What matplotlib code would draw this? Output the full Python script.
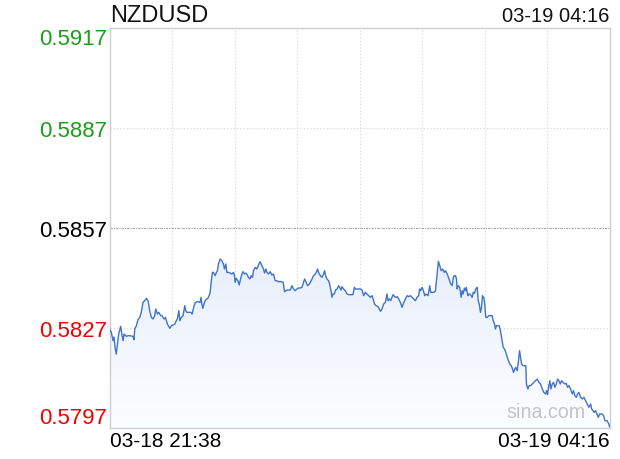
import numpy as np
import matplotlib
matplotlib.use("Agg")
import matplotlib.pyplot as plt
from matplotlib.colors import LinearSegmentedColormap

plt.rcParams['font.family'] = ['Liberation Sans', 'DejaVu Sans']

# ---------------- data ----------------
title = "NZDUSD"
start_label = "03-18 21:38"
end_label = "03-19 04:16"
total_minutes = 398

y_ticks = [0.5917, 0.5887, 0.5857, 0.5827, 0.5797]
y_tick_labels = ["0.5917", "0.5887", "0.5857", "0.5827", "0.5797"]
y_tick_colors = ["#1a9f1a", "#1a9f1a", "#000000", "#f20000", "#f20000"]
prev_close = 0.5857

minutes = [
    0, 1.4, 2.8, 3.6, 4.6, 5.4, 6.2, 7.3, 8.9, 10.0, 10.8, 11.6, 13.4, 14.7, 16.1, 18.7, 19.5, 20.1, 21.4, 22.7,
    24.1, 25.3, 26.7, 28.1, 29.3, 30.7, 32.0, 33.3, 34.7, 36.0, 36.8, 38.1, 39.2, 40.8, 41.8, 43.4, 44.5, 46.1, 48.0,
    49.3, 50.6, 52.0, 53.2, 54.0, 55.2, 56.0, 57.2, 58.6, 59.9, 60.7, 61.5, 63.1, 64.7, 65.8, 67.3, 68.4, 70.5,
    72.1, 72.9, 73.5, 74.3, 75.6, 76.7, 78.3, 79.3, 80.1, 80.9, 81.9, 82.7, 84.1, 84.9, 85.9, 86.7, 88.1, 89.4, 90.7,
    91.5, 92.6, 93.4, 94.7, 96.0, 97.4, 98.7, 99.5, 100.0, 100.8, 102.2, 103.2, 104.0, 105.4, 106.2, 107.4, 108.6,
    109.6, 110.6, 111.7, 112.8, 113.8, 114.6, 116.0, 117.3, 118.6, 119.9, 121.3, 122.6, 123.4, 124.5, 125.3, 126.6,
    127.9, 129.3, 130.5, 131.9, 133.3, 134.5, 136.7, 138.3, 139.3,
    141.2, 143.9, 145.2, 146.5, 147.8, 149.2, 150.5, 151.8, 153.2, 154.5, 155.3, 156.6, 157.6, 159.2, 161.2, 162.4,
    163.8, 164.6, 165.6, 166.4, 167.8, 169.1, 170.4, 171.2, 172.0, 173.1, 174.4, 175.2, 176.3, 177.1, 177.9, 178.9,
    180.0, 181.1, 182.4, 183.2, 184.3, 185.1, 186.3, 187.7, 189.0, 190.3, 192.2, 193.8, 194.9, 195.9, 197.5, 199.7,
    201.0, 202.3, 203.6, 205.0, 206.3, 207.6,
    209.0, 209.8, 211.0, 212.2, 213.8, 214.8, 215.8, 216.9, 218.2, 219.6, 220.9, 221.7, 222.8, 223.8, 224.9, 225.7,
    227.0, 228.1, 229.1, 230.2, 231.5, 232.9, 233.9, 235.0, 236.1, 237.1, 238.1, 239.5, 240.9, 242.1, 243.5, 244.8,
    246.1, 246.9, 247.7, 248.8, 249.9, 250.9, 252.0, 253.6, 254.9, 255.7, 256.8, 258.1, 259.4, 260.8, 261.8, 262.9,
    264.0, 265.2, 266.4, 267.4, 268.8, 270.0, 271.4, 272.7, 273.8, 274.8, 275.4, 276.2,
    276.7, 277.5, 278.8, 279.9, 280.7, 281.5, 282.5, 283.3, 284.1, 285.2, 286.0, 286.8, 287.9, 288.7, 289.5, 290.5,
    291.5, 292.7, 293.5, 294.3, 295.3, 296.1, 296.9, 297.9, 298.7, 299.5, 300.6, 301.9, 303.3, 304.6, 305.4, 306.5,
    307.2, 308.0, 309.1, 310.2, 311.2, 312.3, 313.4, 314.4, 315.5, 316.6, 317.6, 318.6, 319.8, 320.8, 321.6, 322.6,
    323.4, 324.5, 325.6, 326.4, 327.2, 328.0, 329.3, 330.4, 331.4, 331.9, 333.0, 334.1, 335.1,
    336.5, 337.8, 339.1, 340.5, 341.8, 343.1, 344.5, 345.7, 347.1, 347.9, 348.7, 349.7, 350.5, 351.3, 352.4, 353.5,
    354.5, 355.6, 356.7, 357.7, 358.8, 359.8, 360.9, 362.5, 363.6, 364.6, 365.7, 367.0, 368.4, 369.4, 370.4, 371.6,
    372.6, 373.6, 375.0, 376.3, 377.6, 379.0, 380.3, 381.6, 383.0, 383.8, 384.8, 385.9, 386.9, 388.0, 389.1, 390.1,
    391.2, 392.3, 393.3, 394.4, 396.0, 397.5, 398.0,
]

prices = [
    0.58267, 0.58258, 0.58232, 0.58243, 0.58207, 0.58192, 0.58217, 0.58252, 0.58275, 0.58247, 0.58232, 0.58252,
    0.58245, 0.58247, 0.58247, 0.58245, 0.58235, 0.58267, 0.58277, 0.58295, 0.58302, 0.58317, 0.58347, 0.58352,
    0.58359, 0.58352, 0.58322, 0.58302, 0.58297, 0.58307, 0.58327, 0.58312, 0.58317, 0.58307, 0.58307, 0.58297,
    0.58302, 0.58282, 0.58269, 0.58277, 0.58279, 0.58282, 0.58292, 0.58297, 0.58322, 0.58292, 0.58302, 0.58307,
    0.58337, 0.58322, 0.58317, 0.58317, 0.58317, 0.58312, 0.58337, 0.58347, 0.58349,
    0.58347, 0.58362, 0.58342, 0.58329, 0.58347, 0.58355, 0.58359, 0.58367, 0.58377, 0.58407, 0.58437, 0.58437,
    0.58427, 0.58435, 0.58442, 0.58462, 0.58477, 0.58472, 0.58462, 0.58447, 0.58462, 0.58437, 0.58437, 0.58435,
    0.58432, 0.58437, 0.58427, 0.58407, 0.58419, 0.58412, 0.58399, 0.58412, 0.58432, 0.58439, 0.58432, 0.58435,
    0.58429, 0.58422, 0.58417, 0.58427, 0.58422, 0.58442, 0.58452, 0.58447, 0.58459, 0.58469, 0.58457, 0.58447,
    0.58435, 0.58447, 0.58437, 0.58432, 0.58439, 0.58429, 0.58432, 0.58412, 0.58412, 0.58409, 0.58409, 0.58407,
    0.58379,
    0.58384, 0.58384, 0.58397, 0.58387, 0.58382, 0.58387, 0.58390, 0.58390, 0.58392, 0.58407, 0.58417, 0.58407,
    0.58397, 0.58402, 0.58417, 0.58427, 0.58432, 0.58437, 0.58447, 0.58437, 0.58427, 0.58422, 0.58432, 0.58442,
    0.58427, 0.58417, 0.58412, 0.58402, 0.58382, 0.58362, 0.58372, 0.58372, 0.58384, 0.58387, 0.58397, 0.58392,
    0.58384, 0.58394, 0.58387, 0.58382, 0.58372, 0.58370, 0.58370, 0.58370, 0.58392, 0.58387, 0.58387, 0.58387,
    0.58384, 0.58367, 0.58377, 0.58372, 0.58367, 0.58362,
    0.58367, 0.58357, 0.58342, 0.58337, 0.58334, 0.58327, 0.58320, 0.58327, 0.58342, 0.58347, 0.58372, 0.58352,
    0.58357, 0.58352, 0.58362, 0.58370, 0.58364, 0.58362, 0.58364, 0.58357, 0.58347, 0.58332, 0.58344, 0.58352,
    0.58362, 0.58367, 0.58364, 0.58367, 0.58362, 0.58357, 0.58352, 0.58362, 0.58367, 0.58387, 0.58382, 0.58392,
    0.58382, 0.58367, 0.58372, 0.58367, 0.58397, 0.58377, 0.58377, 0.58377, 0.58380, 0.58432, 0.58470, 0.58457,
    0.58442, 0.58447, 0.58437, 0.58442, 0.58432, 0.58420, 0.58404, 0.58397, 0.58424, 0.58427, 0.58427, 0.58417,
    0.58387, 0.58397, 0.58392, 0.58362, 0.58382, 0.58372, 0.58390, 0.58382, 0.58392, 0.58367, 0.58372, 0.58372,
    0.58367, 0.58362, 0.58377, 0.58374, 0.58387, 0.58392, 0.58352, 0.58342, 0.58317, 0.58332, 0.58367, 0.58362,
    0.58342, 0.58302, 0.58302, 0.58307, 0.58307, 0.58307, 0.58292, 0.58282, 0.58267, 0.58277, 0.58277, 0.58277,
    0.58262, 0.58237, 0.58212, 0.58207, 0.58197, 0.58182, 0.58172, 0.58162, 0.58157, 0.58147, 0.58137, 0.58147,
    0.58152, 0.58142, 0.58172, 0.58202, 0.58182, 0.58162, 0.58157, 0.58157, 0.58157, 0.58102, 0.58087, 0.58097,
    0.58097,
    0.58102, 0.58107, 0.58112, 0.58117, 0.58107, 0.58102, 0.58087, 0.58077, 0.58072, 0.58082, 0.58070, 0.58097,
    0.58112, 0.58087, 0.58102, 0.58107, 0.58092, 0.58102, 0.58117, 0.58112, 0.58102, 0.58112, 0.58107, 0.58102,
    0.58104, 0.58092, 0.58097, 0.58087, 0.58072, 0.58082, 0.58067, 0.58062, 0.58072, 0.58077, 0.58062, 0.58057,
    0.58062, 0.58052, 0.58042, 0.58032, 0.58042, 0.58027, 0.58022, 0.58017, 0.58022, 0.58012, 0.58002, 0.58012,
    0.58012, 0.58012, 0.58007, 0.57992, 0.57992, 0.57982, 0.57974,
]

# ---------------- figure ----------------
W, H = 620, 460
fig = plt.figure(figsize=(W / 100, H / 100), dpi=100)
fig.patch.set_facecolor("white")
ax = fig.add_axes([109.5 / W, 31 / H, 500 / W, 400 / H])

x = np.array(minutes)
y = np.array(prices)
ymin, ymax = y_ticks[-1], y_ticks[0]
ax.set_xlim(0, total_minutes)
ax.set_ylim(ymin, ymax)

# gradient fill under line
poly = ax.fill_between(x, y, ymin, color="none", lw=0)
cmap = LinearSegmentedColormap.from_list("g", ["#fcfdff", "#e8effb"])
grad = np.linspace(0, 1, 256).reshape(-1, 1)
im = ax.imshow(grad, cmap=cmap, aspect="auto", origin="lower",
               extent=[0, total_minutes, ymin, y.max()], zorder=1)
im.set_clip_path(poly.get_paths()[0], transform=ax.transData)

ax.plot(x, y, color="#3f73cc", lw=1.0, zorder=3)

# grid
xgrid = np.linspace(0, total_minutes, 9)[1:-1]
for gx in xgrid:
    ax.axvline(gx, color="#d4d4d4", lw=0.8, ls=(0, (1, 2)), zorder=0)
for gy in y_ticks[1:-1]:
    if gy == prev_close:
        ax.axhline(gy, color="#a0a0a0", lw=0.8, ls=(0, (2, 1, 1, 1)), zorder=2)
    else:
        ax.axhline(gy, color="#d4d4d4", lw=0.8, ls=(0, (1, 2)), zorder=0)

for s in ax.spines.values():
    s.set_color("#cfcfcf")
    s.set_linewidth(1.0)

ax.set_yticks(y_ticks)
ax.set_yticklabels(y_tick_labels, fontsize=16)
for lbl, c in zip(ax.get_yticklabels(), y_tick_colors):
    lbl.set_color(c)
ylbls = ax.get_yticklabels()
ylbls[0].set_verticalalignment("top")
ylbls[-1].set_verticalalignment("bottom")
ax.tick_params(axis="y", length=0, pad=2)

ax.set_xticks([0, total_minutes])
ax.set_xticklabels([start_label, end_label], fontsize=15)
xl = ax.get_xticklabels()
xl[0].set_horizontalalignment("left")
xl[1].set_horizontalalignment("right")
ax.tick_params(axis="x", length=0, pad=2.5)

fig.text(110 / W, 1 - 16.5 / H, title, fontsize=17, ha="left", va="center", color="#111111")
fig.text(609 / W, 1 - 17 / H, end_label, fontsize=14.5, ha="right", va="center", color="#111111")
ax.text(0.952, 0.04, "sina.com", transform=ax.transAxes, fontsize=14.2,
        color="#c4c4c4", ha="right", va="center", zorder=4)

fig.savefig("out.png", dpi=100)
